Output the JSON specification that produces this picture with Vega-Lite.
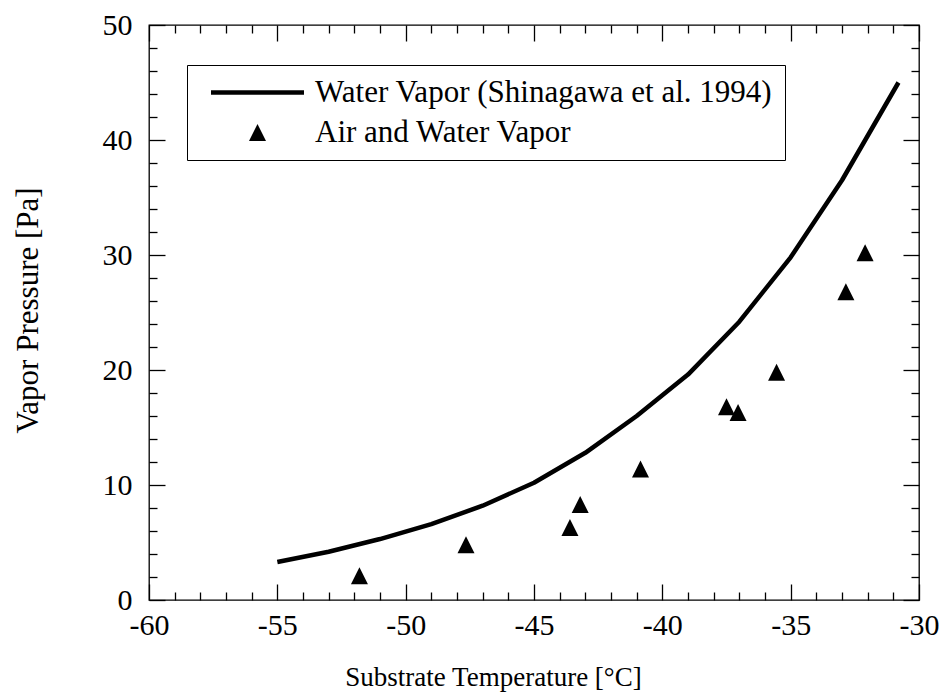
{
  "$schema": "https://vega.github.io/schema/vega-lite/v6.json",
  "width": 770,
  "height": 575,
  "autosize": {"type": "none"},
  "padding": {"left": 149, "top": 25, "right": 24, "bottom": 100},
  "background": "white",
  "config": {
    "font": "Liberation Serif",
    "view": {"stroke": "black", "strokeWidth": 1.3},
    "axis": {
      "grid": false,
      "domain": false,
      "tickColor": "black",
      "tickWidth": 1.3,
      "labelColor": "black",
      "labelFont": "Liberation Serif",
      "labelFontSize": 30,
      "labelOverlap": false,
      "labelFlush": false,
      "titleColor": "black",
      "titleFont": "Liberation Serif",
      "titleFontSize": 28,
      "titleFontWeight": "normal"
    },
    "legend": {
      "labelFont": "Liberation Serif",
      "labelFontSize": 31,
      "labelColor": "black",
      "labelLimit": 0
    }
  },
  "resolve": {"axis": {"x": "independent", "y": "independent"}},
  "layer": [
    {
      "data": {
        "values": [
          {"T": -55, "P": 3.3},
          {"T": -53, "P": 4.2},
          {"T": -51, "P": 5.3},
          {"T": -49, "P": 6.6},
          {"T": -47, "P": 8.2},
          {"T": -45, "P": 10.2},
          {"T": -43, "P": 12.8},
          {"T": -41, "P": 16.0},
          {"T": -39, "P": 19.6},
          {"T": -37, "P": 24.2},
          {"T": -35, "P": 29.8},
          {"T": -33, "P": 36.5},
          {"T": -30.8, "P": 45.0}
        ]
      },
      "mark": {"type": "line", "color": "black", "strokeWidth": 4.5, "strokeJoin": "round"},
      "encoding": {
        "x": {
          "field": "T",
          "type": "quantitative",
          "scale": {"domain": [-60, -30], "nice": false, "zero": false},
          "axis": {
            "orient": "bottom",
            "values": [-60, -59, -58, -57, -56, -55, -54, -53, -52, -51, -50, -49, -48, -47, -46, -45, -44, -43, -42, -41, -40, -39, -38, -37, -36, -35, -34, -33, -32, -31, -30],
            "labelExpr": "datum.value % 5 === 0 ? replace(datum.label, '−', '-') : ''",
            "tickSize": {"condition": {"test": "datum.value % 5 === 0", "value": -16}, "value": -8},
            "labelPadding": 26,
            "title": "Substrate Temperature [°C]",
            "titleFontSize": 27,
            "titleX": 344,
            "titleY": 85,
            "titleAlign": "center",
            "titleBaseline": "alphabetic"
          }
        },
        "y": {
          "field": "P",
          "type": "quantitative",
          "scale": {"domain": [0, 50], "nice": false, "zero": false},
          "axis": {
            "orient": "left",
            "values": [0, 2, 4, 6, 8, 10, 12, 14, 16, 18, 20, 22, 24, 26, 28, 30, 32, 34, 36, 38, 40, 42, 44, 46, 48, 50],
            "labelExpr": "datum.value % 10 === 0 ? datum.label : ''",
            "tickSize": {"condition": {"test": "datum.value % 10 === 0", "value": -16}, "value": -8},
            "labelPadding": 33,
            "title": "Vapor Pressure [Pa]",
            "titleFontSize": 31,
            "titleAngle": -90,
            "titleX": -112,
            "titleY": 285,
            "titleAlign": "center",
            "titleBaseline": "alphabetic"
          }
        }
      }
    },
    {
      "data": {
        "values": [
          {"T": -51.8, "P": 2.1, "series": "Air and Water Vapor"},
          {"T": -47.65, "P": 4.8, "series": "Air and Water Vapor"},
          {"T": -43.6, "P": 6.3, "series": "Air and Water Vapor"},
          {"T": -43.2, "P": 8.3, "series": "Air and Water Vapor"},
          {"T": -40.85, "P": 11.4, "series": "Air and Water Vapor"},
          {"T": -37.5, "P": 16.8, "series": "Air and Water Vapor"},
          {"T": -37.05, "P": 16.3, "series": "Air and Water Vapor"},
          {"T": -35.55, "P": 19.8, "series": "Air and Water Vapor"},
          {"T": -32.85, "P": 26.8, "series": "Air and Water Vapor"},
          {"T": -32.1, "P": 30.2, "series": "Air and Water Vapor"}
        ]
      },
      "mark": {"type": "point", "filled": true, "color": "black", "opacity": 1, "size": 289},
      "encoding": {
        "x": {
          "field": "T",
          "type": "quantitative",
          "axis": {
            "orient": "top",
            "values": [-60, -59, -58, -57, -56, -55, -54, -53, -52, -51, -50, -49, -48, -47, -46, -45, -44, -43, -42, -41, -40, -39, -38, -37, -36, -35, -34, -33, -32, -31, -30],
            "labels": false,
            "tickSize": {"condition": {"test": "datum.value % 5 === 0", "value": -16}, "value": -8},
            "title": null
          }
        },
        "y": {
          "field": "P",
          "type": "quantitative",
          "axis": {
            "orient": "right",
            "values": [0, 2, 4, 6, 8, 10, 12, 14, 16, 18, 20, 22, 24, 26, 28, 30, 32, 34, 36, 38, 40, 42, 44, 46, 48, 50],
            "labels": false,
            "tickSize": {"condition": {"test": "datum.value % 10 === 0", "value": -16}, "value": -8},
            "title": null
          }
        },
        "shape": {
          "field": "series",
          "type": "nominal",
          "scale": {
            "domain": ["Water Vapor (Shinagawa et al. 1994)", "Air and Water Vapor"],
            "range": ["M-5.47,-0.265L5.47,-0.265L5.47,0.265L-5.47,0.265Z", "M0,-1L1,1L-1,1Z"]
          },
          "legend": {
            "title": null,
            "orient": "none",
            "legendX": 38,
            "legendY": 40,
            "padding": 12,
            "strokeColor": "black",
            "fillColor": "white",
            "symbolOffset": 43,
            "labelOffset": 42,
            "rowPadding": 8,
            "symbolSize": 289,
            "symbolFillColor": "black",
            "symbolStrokeWidth": 0,
            "symbolOpacity": 1
          }
        }
      }
    }
  ]
}
